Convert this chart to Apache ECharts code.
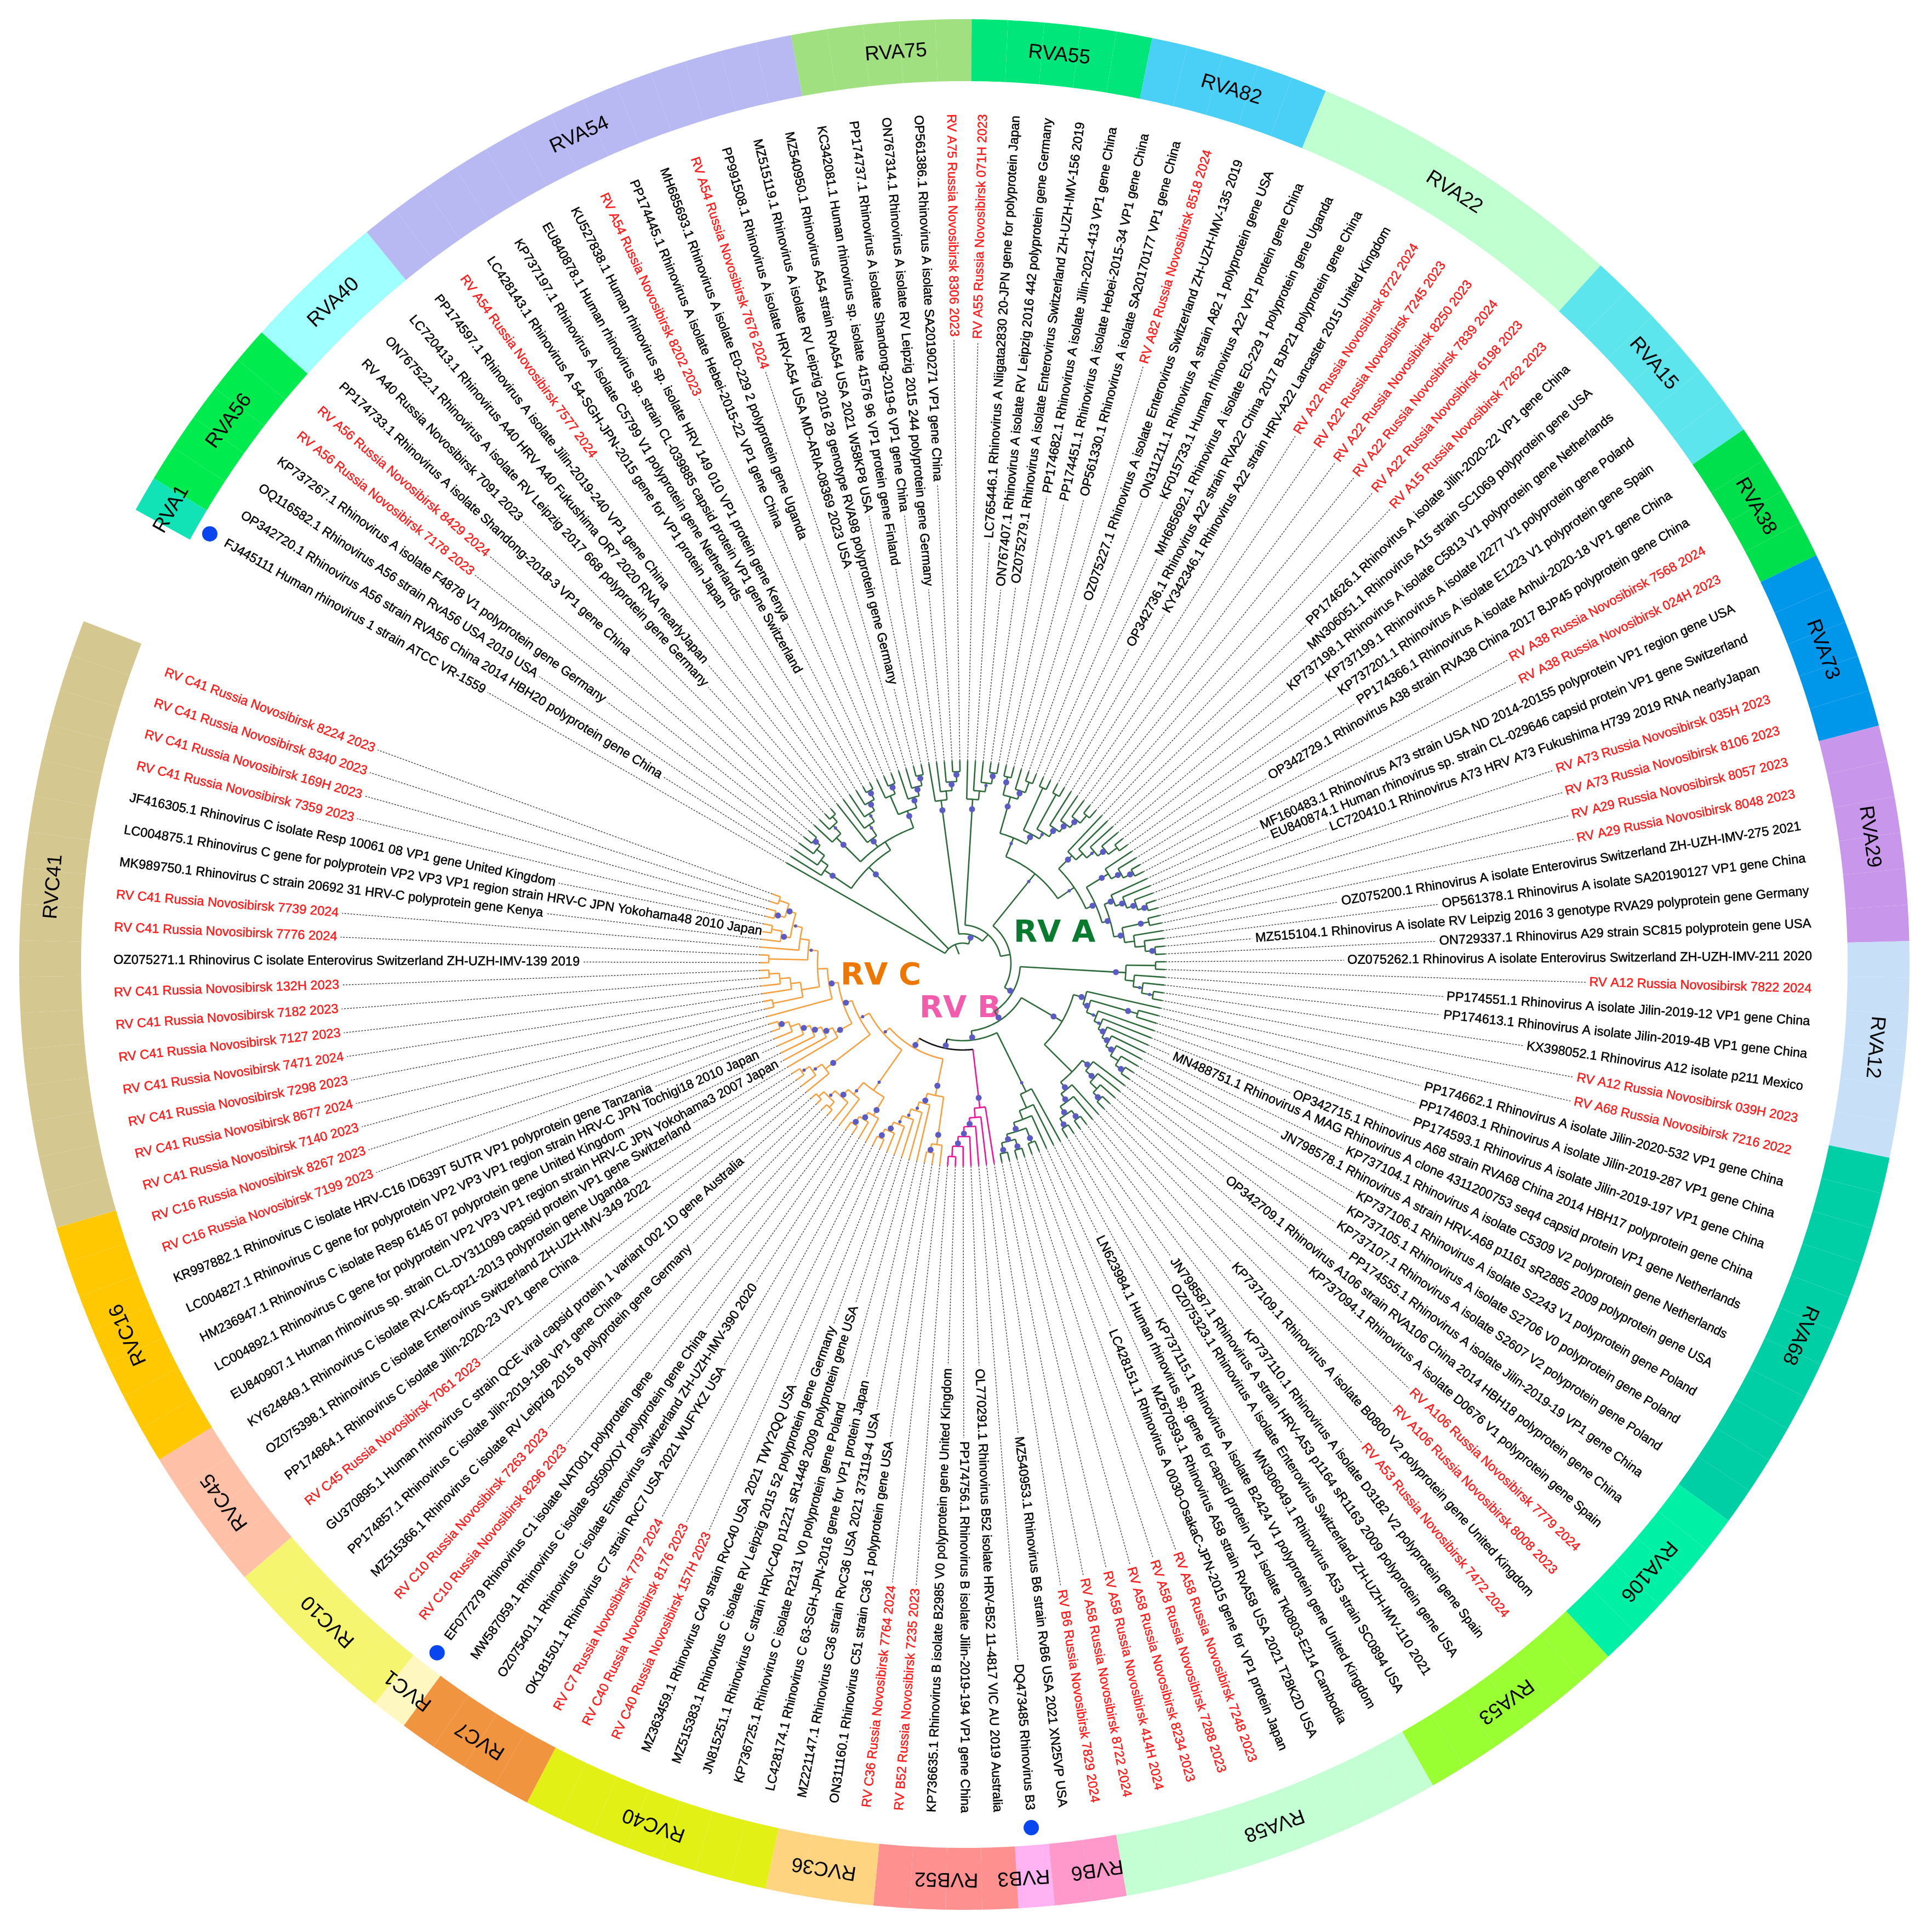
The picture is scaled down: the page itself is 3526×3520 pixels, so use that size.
<!DOCTYPE html>
<html>
<head>
    <meta charset="utf-8">
    <title>Rhinovirus VP4/VP2 tree</title>
    <script src="https://cdn.jsdelivr.net/npm/echarts@6/dist/echarts.min.js"></script>
    <style>
        html, body { margin: 0; padding: 0; background: #fff; }
        #chart { width: 3526px; height: 3520px; }
    </style>
</head>
<body>
<div id="chart"></div>
<script>
// leaves run clockwise, starting at the RVA1 reference strain
var leafLabels = [
    'FJ445111 Human rhinovirus 1 strain ATCC VR-1559',
    'OP342720.1 Rhinovirus A56 strain RVA56 China 2014 HBH20 polyprotein gene China',
    'OQ116582.1 Rhinovirus A56 strain RvA56 USA 2019 USA',
    'KP737267.1 Rhinovirus A isolate F4878 V1 polyprotein gene Germany',
    'RV A56 Russia Novosibirsk 7178 2023',
    'RV A56 Russia Novosibirsk 8429 2024',
    'PP174733.1 Rhinovirus A isolate Shandong-2018-3 VP1 gene China',
    'RV A40 Russia Novosibirsk 7091 2023',
    'ON767522.1 Rhinovirus A isolate RV Leipzig 2017 668 polyprotein gene Germany',
    'LC720413.1 Rhinovirus A40 HRV A40 Fukushima OR7 2020 RNA nearlyJapan',
    'PP174597.1 Rhinovirus A isolate Jilin-2019-240 VP1 gene China',
    'RV A54 Russia Novosibirsk 7577 2024',
    'LC428143.1 Rhinovirus A 54-SGH-JPN-2015 gene for VP1 protein Japan',
    'KP737197.1 Rhinovirus A isolate C5799 V1 polyprotein gene Netherlands',
    'EU840878.1 Human rhinovirus sp. strain CL-039885 capsid protein VP1 gene Switzerland',
    'KU527838.1 Human rhinovirus sp. isolate HRV 149 010 VP1 protein gene Kenya',
    'RV A54 Russia Novosibirsk 8202 2023',
    'PP174445.1 Rhinovirus A isolate Hebei-2015-22 VP1 gene China',
    'MH685693.1 Rhinovirus A isolate E0-229 2 polyprotein gene Uganda',
    'RV A54 Russia Novosibirsk 7676 2024',
    'PP991508.1 Rhinovirus A isolate HRV-A54 USA MD-ARIA-08369 2023 USA',
    'MZ515119.1 Rhinovirus A isolate RV Leipzig 2016 28 genotype RVA98 polyprotein gene Germany',
    'MZ540950.1 Rhinovirus A54 strain RvA54 USA 2021 W58KP8 USA',
    'KC342081.1 Human rhinovirus sp. isolate 41576 96 VP1 protein gene Finland',
    'PP174737.1 Rhinovirus A isolate Shandong-2019-6 VP1 gene China',
    'ON767314.1 Rhinovirus A isolate RV Leipzig 2015 244 polyprotein gene Germany',
    'OP561386.1 Rhinovirus A isolate SA20190271 VP1 gene China',
    'RV A75 Russia Novosibirsk 8306 2023',
    'RV A55 Russia Novosibirsk 071H 2023',
    'LC765446.1 Rhinovirus A Niigata2830 20-JPN gene for polyprotein Japan',
    'ON767407.1 Rhinovirus A isolate RV Leipzig 2016 442 polyprotein gene Germany',
    'OZ075279.1 Rhinovirus A isolate Enterovirus Switzerland ZH-UZH-IMV-156 2019',
    'PP174682.1 Rhinovirus A isolate Jilin-2021-413 VP1 gene China',
    'PP174451.1 Rhinovirus A isolate Hebei-2015-34 VP1 gene China',
    'OP561330.1 Rhinovirus A isolate SA20170177 VP1 gene China',
    'RV A82 Russia Novosibirsk 8518 2024',
    'OZ075227.1 Rhinovirus A isolate Enterovirus Switzerland ZH-UZH-IMV-135 2019',
    'ON311211.1 Rhinovirus A strain A82 1 polyprotein gene USA',
    'KF015733.1 Human rhinovirus A22 VP1 protein gene China',
    'MH685692.1 Rhinovirus A isolate E0-229 1 polyprotein gene Uganda',
    'OP342736.1 Rhinovirus A22 strain RVA22 China 2017 BJP21 polyprotein gene China',
    'KY342346.1 Rhinovirus A22 strain HRV-A22 Lancaster 2015 United Kingdom',
    'RV A22 Russia Novosibirsk 8722 2024',
    'RV A22 Russia Novosibirsk 7245 2023',
    'RV A22 Russia Novosibirsk 8250 2023',
    'RV A22 Russia Novosibirsk 7839 2024',
    'RV A22 Russia Novosibirsk 6198 2023',
    'RV A15 Russia Novosibirsk 7262 2023',
    'PP174626.1 Rhinovirus A isolate Jilin-2020-22 VP1 gene China',
    'MN306051.1 Rhinovirus A15 strain SC1069 polyprotein gene USA',
    'KP737198.1 Rhinovirus A isolate C5813 V1 polyprotein gene Netherlands',
    'KP737199.1 Rhinovirus A isolate I2277 V1 polyprotein gene Poland',
    'KP737201.1 Rhinovirus A isolate E1223 V1 polyprotein gene Spain',
    'PP174366.1 Rhinovirus A isolate Anhui-2020-18 VP1 gene China',
    'OP342729.1 Rhinovirus A38 strain RVA38 China 2017 BJP45 polyprotein gene China',
    'RV A38 Russia Novosibirsk 7568 2024',
    'RV A38 Russia Novosibirsk 024H 2023',
    'MF160483.1 Rhinovirus A73 strain USA ND 2014-20155 polyprotein VP1 region gene USA',
    'EU840874.1 Human rhinovirus sp. strain CL-029646 capsid protein VP1 gene Switzerland',
    'LC720410.1 Rhinovirus A73 HRV A73 Fukushima H739 2019 RNA nearlyJapan',
    'RV A73 Russia Novosibirsk 035H 2023',
    'RV A73 Russia Novosibirsk 8106 2023',
    'RV A29 Russia Novosibirsk 8057 2023',
    'RV A29 Russia Novosibirsk 8048 2023',
    'OZ075200.1 Rhinovirus A isolate Enterovirus Switzerland ZH-UZH-IMV-275 2021',
    'OP561378.1 Rhinovirus A isolate SA20190127 VP1 gene China',
    'MZ515104.1 Rhinovirus A isolate RV Leipzig 2016 3 genotype RVA29 polyprotein gene Germany',
    'ON729337.1 Rhinovirus A29 strain SC815 polyprotein gene USA',
    'OZ075262.1 Rhinovirus A isolate Enterovirus Switzerland ZH-UZH-IMV-211 2020',
    'RV A12 Russia Novosibirsk 7822 2024',
    'PP174551.1 Rhinovirus A isolate Jilin-2019-12 VP1 gene China',
    'PP174613.1 Rhinovirus A isolate Jilin-2019-4B VP1 gene China',
    'KX398052.1 Rhinovirus A12 isolate p211 Mexico',
    'RV A12 Russia Novosibirsk 039H 2023',
    'RV A68 Russia Novosibirsk 7216 2022',
    'PP174662.1 Rhinovirus A isolate Jilin-2020-532 VP1 gene China',
    'PP174603.1 Rhinovirus A isolate Jilin-2019-287 VP1 gene China',
    'PP174593.1 Rhinovirus A isolate Jilin-2019-197 VP1 gene China',
    'OP342715.1 Rhinovirus A68 strain RVA68 China 2014 HBH17 polyprotein gene China',
    'MN488751.1 Rhinovirus A MAG Rhinovirus A clone 4311200753 seq4 capsid protein VP1 gene Netherlands',
    'KP737104.1 Rhinovirus A isolate C5309 V2 polyprotein gene Netherlands',
    'JN798578.1 Rhinovirus A strain HRV-A68 p1161 sR2885 2009 polyprotein gene USA',
    'KP737106.1 Rhinovirus A isolate S2243 V1 polyprotein gene Poland',
    'KP737105.1 Rhinovirus A isolate S2706 V0 polyprotein gene Poland',
    'KP737107.1 Rhinovirus A isolate S2607 V2 polyprotein gene Poland',
    'PP174555.1 Rhinovirus A isolate Jilin-2019-19 VP1 gene China',
    'OP342709.1 Rhinovirus A106 strain RVA106 China 2014 HBH18 polyprotein gene China',
    'KP737094.1 Rhinovirus A isolate D0676 V1 polyprotein gene Spain',
    'RV A106 Russia Novosibirsk 7779 2024',
    'RV A106 Russia Novosibirsk 8008 2023',
    'KP737109.1 Rhinovirus A isolate B0800 V2 polyprotein gene United Kingdom',
    'RV A53 Russia Novosibirsk 7472 2024',
    'KP737110.1 Rhinovirus A isolate D3182 V2 polyprotein gene Spain',
    'JN798587.1 Rhinovirus A strain HRV-A53 p1164 sR1163 2009 polyprotein gene USA',
    'OZ075323.1 Rhinovirus A isolate Enterovirus Switzerland ZH-UZH-IMV-110 2021',
    'MN306049.1 Rhinovirus A53 strain SC0894 USA',
    'KP737115.1 Rhinovirus A isolate B2424 V1 polyprotein gene United Kingdom',
    'LN623984.1 Human rhinovirus sp. gene for capsid protein VP1 isolate Tk0803-E214 Cambodia',
    'MZ670593.1 Rhinovirus A58 strain RvA58 USA 2021 T28K2D USA',
    'LC428151.1 Rhinovirus A 0030-OsakaC-JPN-2015 gene for VP1 protein Japan',
    'RV A58 Russia Novosibirsk 7248 2023',
    'RV A58 Russia Novosibirsk 7288 2023',
    'RV A58 Russia Novosibirsk 8234 2023',
    'RV A58 Russia Novosibirsk 414H 2024',
    'RV A58 Russia Novosibirsk 8722 2024',
    'RV B6 Russia Novosibirsk 7829 2024',
    'MZ540953.1 Rhinovirus B6 strain RvB6 USA 2021 XN25VP USA',
    'DQ473485 Rhinovirus B3',
    'OL770291.1 Rhinovirus B52 isolate HRV-B52 11-4817 VIC AU 2019 Australia',
    'PP174756.1 Rhinovirus B isolate Jilin-2019-194 VP1 gene China',
    'KP736635.1 Rhinovirus B isolate B2985 V0 polyprotein gene United Kingdom',
    'RV B52 Russia Novosibirsk 7235 2023',
    'RV C36 Russia Novosibirsk 7764 2024',
    'ON311160.1 Rhinovirus C51 strain C36 1 polyprotein gene USA',
    'MZ221147.1 Rhinovirus C36 strain RvC36 USA 2021 373119-4 USA',
    'LC428174.1 Rhinovirus C 63-SGH-JPN-2016 gene for VP1 protein Japan',
    'KP736725.1 Rhinovirus C isolate R2131 V0 polyprotein gene Poland',
    'JN815251.1 Rhinovirus C strain HRV-C40 p1221 sR1448 2009 polyprotein gene USA',
    'MZ515383.1 Rhinovirus C isolate RV Leipzig 2015 52 polyprotein gene Germany',
    'MZ363459.1 Rhinovirus C40 strain RvC40 USA 2021 TWY2QQ USA',
    'RV C40 Russia Novosibirsk 157H 2023',
    'RV C40 Russia Novosibirsk 8176 2023',
    'RV C7 Russia Novosibirsk 7797 2024',
    'OK181501.1 Rhinovirus C7 strain RvC7 USA 2021 WUFYKZ USA',
    'OZ075401.1 Rhinovirus C isolate Enterovirus Switzerland ZH-UZH-IMV-390 2020',
    'MW587059.1 Rhinovirus C isolate S0590XDY polyprotein gene China',
    'EF077279 Rhinovirus C1 isolate NAT001 polyprotein gene',
    'RV C10 Russia Novosibirsk 8296 2023',
    'RV C10 Russia Novosibirsk 7263 2023',
    'MZ515366.1 Rhinovirus C isolate RV Leipzig 2015 8 polyprotein gene Germany',
    'PP174857.1 Rhinovirus C isolate Jilin-2019-19B VP1 gene China',
    'GU370895.1 Human rhinovirus C strain QCE viral capsid protein 1 variant 002 1D gene Australia',
    'RV C45 Russia Novosibirsk 7061 2023',
    'PP174864.1 Rhinovirus C isolate Jilin-2020-23 VP1 gene China',
    'OZ075398.1 Rhinovirus C isolate Enterovirus Switzerland ZH-UZH-IMV-349 2022',
    'KY624849.1 Rhinovirus C isolate RV-C45-cpz1-2013 polyprotein gene Uganda',
    'EU840907.1 Human rhinovirus sp. strain CL-DY311099 capsid protein VP1 gene Switzerland',
    'LC004892.1 Rhinovirus C gene for polyprotein VP2 VP3 VP1 region strain HRV-C JPN Yokohama3 2007 Japan',
    'HM236947.1 Rhinovirus C isolate Resp 6145 07 polyprotein gene United Kingdom',
    'LC004827.1 Rhinovirus C gene for polyprotein VP2 VP3 VP1 region strain HRV-C JPN Tochigi18 2010 Japan',
    'KR997882.1 Rhinovirus C isolate HRV-C16 ID639T 5UTR VP1 polyprotein gene Tanzania',
    'RV C16 Russia Novosibirsk 7199 2023',
    'RV C16 Russia Novosibirsk 8267 2023',
    'RV C41 Russia Novosibirsk 7140 2023',
    'RV C41 Russia Novosibirsk 8677 2024',
    'RV C41 Russia Novosibirsk 7298 2023',
    'RV C41 Russia Novosibirsk 7471 2024',
    'RV C41 Russia Novosibirsk 7127 2023',
    'RV C41 Russia Novosibirsk 7182 2023',
    'RV C41 Russia Novosibirsk 132H 2023',
    'OZ075271.1 Rhinovirus C isolate Enterovirus Switzerland ZH-UZH-IMV-139 2019',
    'RV C41 Russia Novosibirsk 7776 2024',
    'RV C41 Russia Novosibirsk 7739 2024',
    'MK989750.1 Rhinovirus C strain 20692 31 HRV-C polyprotein gene Kenya',
    'LC004875.1 Rhinovirus C gene for polyprotein VP2 VP3 VP1 region strain HRV-C JPN Yokohama48 2010 Japan',
    'JF416305.1 Rhinovirus C isolate Resp 10061 08 VP1 gene United Kingdom',
    'RV C41 Russia Novosibirsk 7359 2023',
    'RV C41 Russia Novosibirsk 169H 2023',
    'RV C41 Russia Novosibirsk 8340 2023',
    'RV C41 Russia Novosibirsk 8224 2023'
];
var blackQueries = ['RV A40 Russia Novosibirsk 7091 2023'];
var refLeaves = [0, 107, 126]; // blue dots: RVA1, RVB3, RVC1

var genotypeNames = ['RVA1', 'RVA56', 'RVA40', 'RVA54', 'RVA75', 'RVA55', 'RVA82', 'RVA22', 'RVA15', 'RVA38', 'RVA73', 'RVA29', 'RVA12', 'RVA68', 'RVA106', 'RVA53', 'RVA58', 'RVB6', 'RVB3', 'RVB52', 'RVC36', 'RVC40', 'RVC7', 'RVC1', 'RVC10', 'RVC45', 'RVC16', 'RVC41'];
var genotypeSizes = [1, 5, 4, 13, 5, 5, 5, 9, 6, 4, 5, 6, 6, 11, 5, 6, 9, 2, 1, 4, 3, 7, 4, 1, 5, 4, 7, 17];
var genotypeColors = ['#12E3B6', '#00EB4E', '#A0FFFF', '#B8B8F2', '#A0E080', '#00E67A', '#4ACFF6', '#C0FFD0', '#5CE5EC', '#00E04C', '#0096EA', '#C896EB', '#C8DFF8', '#00CFA6', '#00F0A5', '#99FF33', '#C4FFD4', '#FF99CC', '#FFB3F2', '#FF9090', '#FFD480', '#E3F015', '#F09440', '#FFF7C0', '#F5F570', '#FFC0A8', '#FFC800', '#D4C78F'];
// names that do not sit in the middle of their strip, in leaves
var nameNudge = { RVA75: 0.35, RVB6: -0.3, RVB3: 0.3, RVC41: 1.05 };

// tree nodes are [radius, support, ...children], a child 0 is a leaf. support: 0 none, 1 small, 2 large
var a56 = [304, 2, 0, [320, 0, 0, [338, 0, 0, [352, 2, 0, 0]]]];
var a40 = [325, 2, 0, [345, 1, 0, [358, 0, 0, 0]]];
var a54a = [281, 2, 0, [305, 1, 0, [322, 1, 0, [340, 2, 0, [358, 2, 0, 0]]]]];
var a54b = [296, 2, [333, 0, 0, [351, 2, 0, 0]], [316, 2, 0, [333, 2, 0, [352, 2, 0, 0]]]];
var a75 = [300, 2, 0, [316, 0, 0, [332, 2, 0, [350, 2, 0, 0]]]];
var a55 = [300, 2, 0, [316, 0, 0, [332, 1, 0, [352, 2, 0, 0]]]];
var a82 = [316, 2, [350, 2, 0, 0], [332, 2, 0, [352, 0, 0, 0]]];
var a22 = [267, 2, [352, 0, 0, 0], [280, 1, [352, 0, 0, 0], [298, 2, 0, [316, 2, 0, [334, 2, 0, [352, 0, 0, 0]]]]]];
var a15 = [280, 2, 0, [297, 0, 0, [315, 1, 0, [332, 2, 0, [352, 0, 0, 0]]]]];
var a38 = [312, 2, 0, [332, 2, 0, [352, 2, 0, 0]]];
var a73 = [298, 2, 0, [316, 2, 0, [334, 2, 0, [352, 2, 0, 0]]]];
var a29 = [298, 2, [348, 2, 0, 0], [316, 0, 0, [334, 0, 0, [352, 2, 0, 0]]]];
var a12 = [298, 2, [352, 0, 0, 0], [314, 0, 0, [331, 1, 0, [352, 1, 0, 0]]]];
var a68 = [232, 2, 0, [243, 2, [332, 2, 0, 0], [262, 1, 0, [275, 1, 0, [288, 2, 0, [302, 2, 0, [318, 2, 0, [335, 0, 0, [352, 2, 0, 0]]]]]]]]];
var a106 = [298, 2, 0, [318, 2, 0, [335, 0, 0, [352, 2, 0, 0]]]];
var a53 = [298, 2, 0, [316, 2, 0, [334, 2, [352, 2, 0, 0], [352, 2, 0, 0]]]];
var a58 = [261, 1, 0, [288, 0, 0, [305, 0, 0, [322, 2, [350, 2, 0, 0], [335, 2, [354, 2, 0, 0], [354, 2, 0, 0]]]]]];
var cladeB = [265, 2, 0, [282, 0, 0, [298, 2, 0, [316, 2, 0, [334, 2, 0, [353, 0, 0, 0]]]]]];
var c36 = [334, 2, 0, [350, 2, 0, 0]];
var c40 = [265, 2, 0, [282, 1, 0, [299, 1, 0, [316, 1, 0, [334, 2, 0, [352, 2, 0, 0]]]]]];
var c7 = [322, 2, 0, [337, 2, 0, [354, 2, 0, 0]]];
var c10 = [311, 1, 0, [329, 2, 0, [345, 1, [358, 0, 0, 0], [358, 0, 0, 0]]]];
var c45 = [316, 2, 0, [337, 1, 0, [354, 1, 0, 0]]];
var c16 = [265, 2, 0, [283, 2, 0, [301, 2, 0, [318, 2, 0, [335, 0, 0, [354, 2, 0, 0]]]]]];
var c41a = [298, 0, [354, 0, 0, 0], [316, 0, 0, [335, 0, 0, [354, 0, 0, 0]]]];
var c41b = [283, 1, [354, 0, 0, 0], [300, 0, 0, [318, 1, [335, 2, 0, [354, 0, 0, 0]], [335, 2, [354, 2, 0, 0], [354, 0, 0, 0]]]]];
var cladeC = [178, 2,
    [246, 2, c36, c40],
    [193, 1,
        [283, 1, c7, c10],
        [213, 1, c45, [230, 2, c16, [247, 2, 0, [265, 0, c41a, c41b]]]]]];
var bcLink = [158, 2, cladeB, cladeC];
var a33to67 = [210, 1,
    [247, 1, a82, a22],
    [246, 1, a15, [265, 2, a38, [280, 2, a73, a29]]]];
var a74to95 = [210, 2, a68, [281, 0, a106, a53]];
var lowerA = [105, 2, a12, [124, 2, a74to95, [141, 2, a58, bcLink]]];
var treeRoot = [37, 0, 0,
    [245, 2, a56, [263, 0, a40, a54a, a54b]],
    [54, 2, a75, [70, 0, a55, [88, 0, a33to67, lowerA]]]];

var LEAF_DEG = 2.2034;
var TIP_R = 370, LABEL_OUT_R = 1550, RING_IN = 1612, RING_OUT = 1725;
var GREEN = '#2E6B3A', PINK = '#F0149B', ORANGE = '#F7A040', BLACK = '#111';
var LABEL_FONT = '23.6px "Liberation Sans"';

// walk the tree: gives stems and arcs in (radius, leaf index) units
var treeLinks = [], supportDots = [], nextLeaf = 0;
var strokeList = [GREEN, PINK, ORANGE, BLACK];
function walk(node, parentR, stroke) {
    if (node === bcLink) stroke = 3;
    if (node === cladeB) stroke = 1;
    if (node === cladeC) stroke = 2;
    if (node === 0) {
        var leafAt = nextLeaf++;
        treeLinks.push([parentR, leafAt, TIP_R, leafAt, stroke]);
        return leafAt;
    }
    var at = [];
    for (var k = 2; k < node.length; k++) at.push(walk(node[k], node[0], stroke));
    var first = at[0], last = at[at.length - 1], mid = (first + last) / 2;
    treeLinks.push([node[0], first, node[0], last, stroke]);
    treeLinks.push([parentR, mid, node[0], mid, stroke]);
    if (node[1]) {
        var back = Math.min(18, (node[0] - parentR) * 0.3);
        supportDots.push([node[0] - back, mid, node[1] === 2 ? 11 : 6]);
    }
    return mid;
}
walk(treeRoot, 18, 0);
console.log('leaves in tree', nextLeaf, leafLabels.length);

var ringCells = [], ringNames = [], pos = 0;
genotypeSizes.forEach(function (n, g) {
    for (var j = 0; j < n; j++) ringCells.push([pos + j, g]);
    ringNames.push([pos + n / 2 - 0.5 + (nameNudge[genotypeNames[g]] || 0), g]);
    pos += n;
});
var labelRows = leafLabels.map(function (t, i) { return [i]; });

var measureCtx = document.createElement('canvas').getContext('2d');
measureCtx.font = LABEL_FONT;

function renderRing(params, api) {
    var a0 = api.value(0) - 0.5, pts = [], t;
    for (t = 0; t <= 6; t++) pts.push(api.coord([RING_IN, a0 + t / 6]));
    for (t = 6; t >= 0; t--) pts.push(api.coord([RING_OUT, a0 + t / 6]));
    return { type: 'polygon', shape: { points: pts }, style: { fill: genotypeColors[api.value(1)] } };
}

function renderRingName(params, api) {
    var p = api.coord([(RING_IN + RING_OUT) / 2, api.value(0)]);
    var phi = Math.atan2(params.coordSys.cy - p[1], p[0] - params.coordSys.cx);
    return {
        type: 'text', x: p[0], y: p[1], rotation: phi - Math.PI / 2,
        style: {
            text: genotypeNames[api.value(1)], font: '37px "Liberation Sans"', fill: '#000',
            textAlign: 'center', textVerticalAlign: 'middle', align: 'center', verticalAlign: 'middle'
        }
    };
}

function renderLabel(params, api) {
    var i = api.value(0), text = leafLabels[i];
    var red = text.indexOf('RV ') === 0 && blackQueries.indexOf(text) < 0;
    var color = red ? '#FF1A1A' : '#000';
    var p = api.coord([LABEL_OUT_R, i]);
    var phi = Math.atan2(params.coordSys.cy - p[1], p[0] - params.coordSys.cx);
    var rightSide = Math.cos(phi) >= 0;
    var w = measureCtx.measureText(text).width;
    return {
        type: 'group',
        children: [{
            type: 'polyline',
            shape: { points: [api.coord([TIP_R, i]), api.coord([LABEL_OUT_R - w - 6, i])] },
            style: { stroke: '#444', lineWidth: 1.5, lineDash: [3, 2.5], fill: null }
        }, {
            type: 'text', x: p[0], y: p[1], rotation: rightSide ? phi : phi + Math.PI,
            style: {
                text: text, font: LABEL_FONT, fill: color, stroke: color, lineWidth: 0.5,
                textAlign: rightSide ? 'right' : 'left', align: rightSide ? 'right' : 'left',
                textVerticalAlign: 'middle', verticalAlign: 'middle'
            }
        }]
    };
}

function renderLink(params, api) {
    var r0 = api.value(0), a0 = api.value(1), r1 = api.value(2), a1 = api.value(3), pts = [];
    var steps = a0 === a1 ? 1 : Math.ceil(Math.abs(a1 - a0) * 4);
    for (var s = 0; s <= steps; s++) {
        pts.push(api.coord([r0 + (r1 - r0) * s / steps, a0 + (a1 - a0) * s / steps]));
    }
    return {
        type: 'polyline', shape: { points: pts },
        style: { stroke: strokeList[api.value(4)], lineWidth: 2.6, fill: null, lineJoin: 'round' }
    };
}

var angleBase = { type: 'value', min: -0.5, max: 360 / LEAF_DEG - 0.5, show: false };
var chart = echarts.init(document.getElementById('chart'), null, { renderer: 'canvas' });
chart.setOption({
    backgroundColor: '#fff',
    animation: false,
    // the strip and the tree are not quite concentric in the picture
    polar: [
        { center: [1760, 1760], radius: RING_OUT },
        { center: [1757, 1758], radius: RING_OUT }
    ],
    radiusAxis: [
        { polarIndex: 0, type: 'value', min: 0, max: RING_OUT, show: false },
        { polarIndex: 1, type: 'value', min: 0, max: RING_OUT, show: false }
    ],
    // one unit is one leaf; leaf 0 sits just past 298.5 deg clockwise from north
    angleAxis: [
        Object.assign({ polarIndex: 0, startAngle: 151.25 }, angleBase),
        Object.assign({ polarIndex: 1, startAngle: 151.4 }, angleBase)
    ],
    series: [
        { type: 'custom', coordinateSystem: 'polar', polarIndex: 0, data: ringCells, renderItem: renderRing, silent: true },
        { type: 'custom', coordinateSystem: 'polar', polarIndex: 0, data: ringNames, renderItem: renderRingName, silent: true },
        { type: 'custom', coordinateSystem: 'polar', polarIndex: 1, data: labelRows, renderItem: renderLabel, silent: true },
        { type: 'custom', coordinateSystem: 'polar', polarIndex: 1, data: treeLinks, renderItem: renderLink, silent: true },
        {
            type: 'scatter', coordinateSystem: 'polar', polarIndex: 1, data: supportDots, silent: true,
            symbolSize: function (v) { return v[2]; },
            itemStyle: { color: '#5B5BC4', opacity: 1 }
        },
        {
            type: 'scatter', coordinateSystem: 'polar', polarIndex: 1, silent: true, symbolSize: 28,
            data: refLeaves.map(function (i) { return [1582, i]; }),
            itemStyle: { color: '#0A46F0', opacity: 1 }
        }
    ],
    graphic: [
        { type: 'text', x: 1850, y: 1675, style: { text: 'RV A', font: 'bold 56px "DejaVu Sans"', fill: '#0A7B2E' } },
        { type: 'text', x: 1534, y: 1753, style: { text: 'RV C', font: 'bold 56px "DejaVu Sans"', fill: '#EE7700' } },
        { type: 'text', x: 1678, y: 1813, style: { text: 'RV B', font: 'bold 56px "DejaVu Sans"', fill: '#F25CAC' } }
    ]
});
</script>
</body>
</html>
